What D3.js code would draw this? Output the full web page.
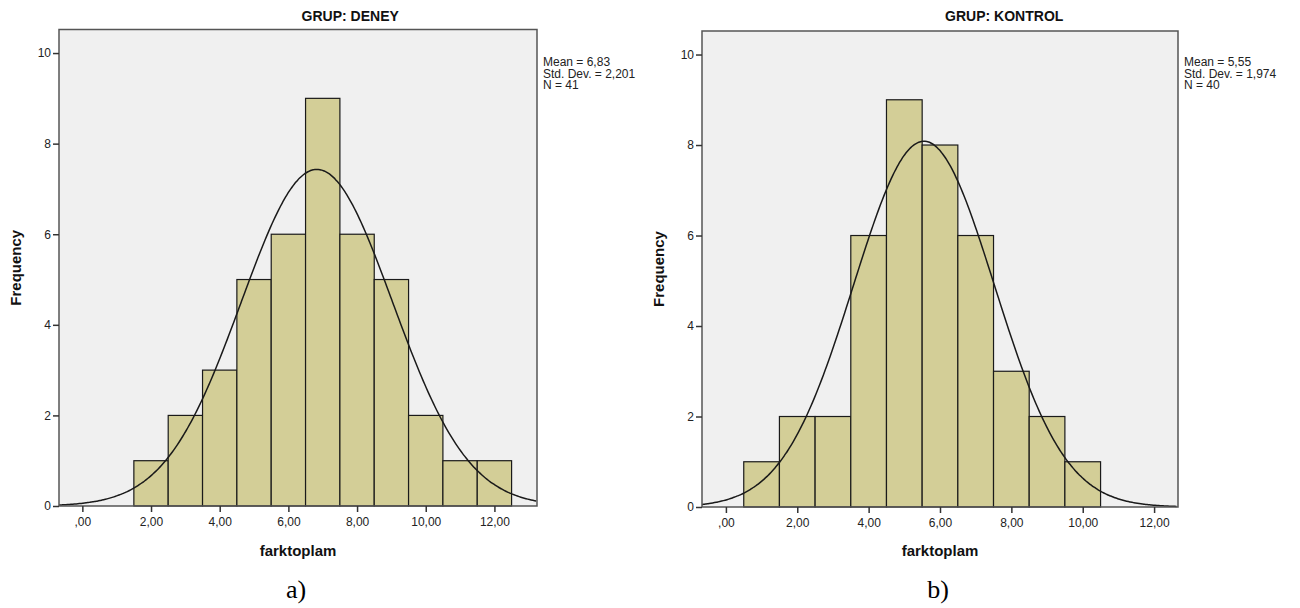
<!DOCTYPE html>
<html>
<head>
<meta charset="utf-8">
<script src="https://cdn.jsdelivr.net/npm/d3@7"></script>
<style>
  body { margin: 0; background: #fff; }
  svg text { font-family: "Liberation Sans Narrow", "Liberation Sans", Arial, sans-serif; }
</style>
</head>
<body>
<svg id="chart" width="1300" height="608"></svg>
<script>
// histogram bins (width 1) and frequencies
var binStartsDeney = [1.5, 2.5, 3.5, 4.5, 5.5, 6.5, 7.5, 8.5, 9.5, 10.5, 11.5];
var countsDeney = [1, 2, 3, 5, 6, 9, 6, 5, 2, 1, 1];
var binStartsKontrol = [0.5, 1.5, 2.5, 3.5, 4.5, 5.5, 6.5, 7.5, 8.5, 9.5];
var countsKontrol = [1, 2, 2, 6, 9, 8, 6, 3, 2, 1];

var titles = ["GRUP: DENEY", "GRUP: KONTROL"];
var captions = ["a)", "b)"];
var means = [6.83, 5.55];
var sds = [2.201, 1.974];
var ns = [41, 40];
var statLabels = [
	["Mean = 6,83", "Std. Dev. = 2,201", "N = 41"],
	["Mean = 5,55", "Std. Dev. = 1,974", "N = 40"]
];
var xTicks = [0, 2, 4, 6, 8, 10, 12];
var yTicks = [0, 2, 4, 6, 8, 10];
var xDomains = [[-0.68, 13.24], [-0.67, 12.67]];
var yDomain = [0, 10.52];

var svg = d3.select("#chart");

var panels = [
	{ x0: 59, x1: 537, y0: 29.5, y1: 506, starts: binStartsDeney, counts: countsDeney },
	{ x0: 702, x1: 1178, y0: 31, y1: 507, starts: binStartsKontrol, counts: countsKontrol }
];

var fmtTick = function(d) {
	var s = d3.format(".2f")(d).replace(".", ",");
	return d === 0 ? ",00" : s;
};

panels.forEach(function(p, i) {
	var x = d3.scaleLinear().domain(xDomains[i]).range([p.x0, p.x1]);
	var y = d3.scaleLinear().domain(yDomain).range([p.y1, p.y0]);
	var g = svg.append("g");

	// plot background
	g.append("rect")
		.attr("x", p.x0).attr("y", p.y0)
		.attr("width", p.x1 - p.x0).attr("height", p.y1 - p.y0)
		.attr("fill", "#f0f0f0");

	// bars
	var bins = p.starts.map(function(s, k) { return { start: s, count: p.counts[k] }; });
	g.selectAll("rect.bar")
		.data(bins)
		.enter().append("rect")
		.attr("class", "bar")
		.attr("x", function(d) { return x(d.start); })
		.attr("y", function(d) { return y(d.count); })
		.attr("width", function(d) { return x(d.start + 1) - x(d.start); })
		.attr("height", function(d) { return y(0) - y(d.count); })
		.attr("fill", "#d3ce97")
		.attr("stroke", "#1a1a1a")
		.attr("stroke-width", 1.2);

	// fitted normal curve: N * binwidth * pdf
	var m = means[i], sd = sds[i], n = ns[i];
	var xs = d3.range(xDomains[i][0], xDomains[i][1] + 0.001, 0.05);
	var line = d3.line()
		.x(function(v) { return x(v); })
		.y(function(v) { return y(n / (sd * Math.sqrt(2 * Math.PI)) * Math.exp(-0.5 * Math.pow((v - m) / sd, 2))); })
		.curve(d3.curveBasis);
	g.append("path")
		.datum(xs)
		.attr("d", line)
		.attr("fill", "none")
		.attr("stroke", "#1a1a1a")
		.attr("stroke-width", 1.5);

	// frame
	g.append("rect")
		.attr("x", p.x0).attr("y", p.y0)
		.attr("width", p.x1 - p.x0).attr("height", p.y1 - p.y0)
		.attr("fill", "none")
		.attr("stroke", "#555")
		.attr("stroke-width", 1.5);

	// axes
	var yAxis = d3.axisLeft(y).tickValues(yTicks).tickSize(6).tickPadding(2).tickFormat(d3.format("d"));
	var ga = g.append("g").attr("transform", "translate(" + p.x0 + ",0)").call(yAxis);
	ga.select(".domain").remove();
	ga.selectAll("line").attr("stroke", "#333").attr("stroke-width", 1.5);
	ga.selectAll("text").attr("font-size", 12).attr("fill", "#222");

	var xAxis = d3.axisBottom(x).tickValues(xTicks).tickSize(6).tickPadding(5).tickFormat(fmtTick);
	var gx = g.append("g").attr("transform", "translate(0," + p.y1 + ")").call(xAxis);
	gx.select(".domain").remove();
	gx.selectAll("line").attr("stroke", "#333").attr("stroke-width", 1.5);
	gx.selectAll("text").attr("font-size", 12).attr("fill", "#222");

	// title
	g.append("text")
		.attr("x", x(7.8)).attr("y", 21)
		.attr("text-anchor", "middle")
		.attr("font-size", 14).attr("font-weight", "bold")
		.attr("fill", "#111")
		.text(titles[i]);

	// stats legend
	statLabels[i].forEach(function(t, k) {
		g.append("text")
			.attr("x", p.x1 + 6).attr("y", 66 + k * 11.5)
			.attr("font-size", 12).attr("fill", "#222")
			.text(t);
	});

	// axis titles
	g.append("text")
		.attr("transform", "translate(" + (p.x0 - 38) + "," + ((p.y0 + p.y1) / 2) + ") rotate(-90)")
		.attr("text-anchor", "middle")
		.attr("font-size", 15).attr("font-weight", "bold")
		.attr("fill", "#111")
		.text("Frequency");
	g.append("text")
		.attr("x", (p.x0 + p.x1) / 2).attr("y", 556)
		.attr("text-anchor", "middle")
		.attr("font-size", 15).attr("font-weight", "bold")
		.attr("fill", "#111")
		.text("farktoplam");

	// caption
	g.append("text")
		.attr("x", (p.x0 + p.x1) / 2 - 2).attr("y", 598)
		.attr("text-anchor", "middle")
		.style("font-family", "'Liberation Serif', 'Times New Roman', serif")
		.attr("font-size", 26)
		.attr("fill", "#000")
		.text(captions[i]);
});
</script>
</body>
</html>
